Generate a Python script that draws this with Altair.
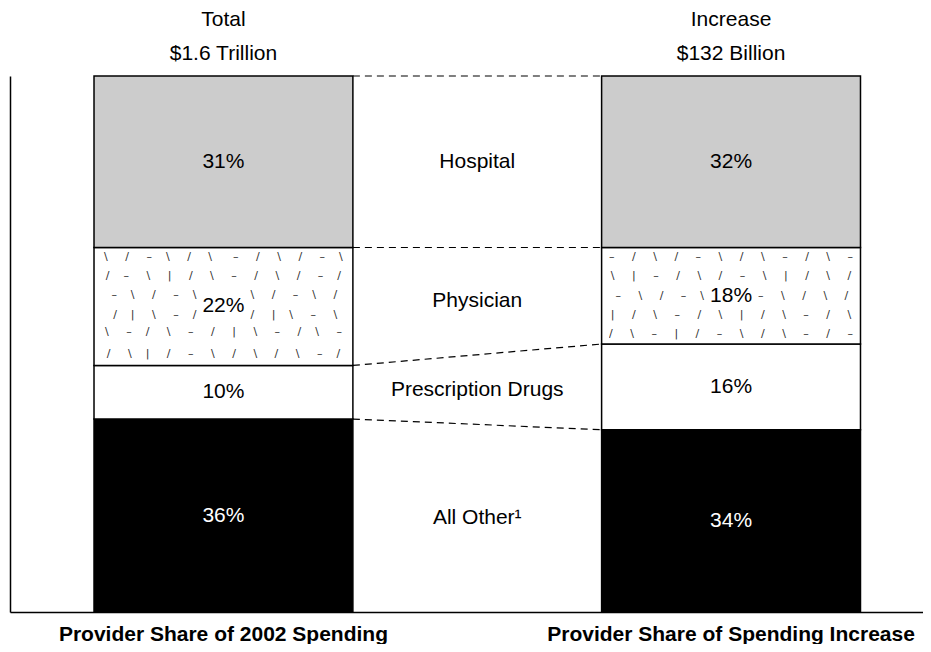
import altair as alt
import pandas as pd

categories = ["Hospital", "Physician", "Prescription Drugs", "All Other"]
mid_labels = ["Hospital", "Physician", "Prescription Drugs", "All Other¹"]
bars = ["Provider Share of 2002 Spending", "Provider Share of Spending Increase"]
header_top = ["Total", "Increase"]
header_amount = ["$1.6 Trillion", "$132 Billion"]
share_2002 = [31, 22, 10, 36]
share_increase = [32, 18, 16, 34]
fill_colors = ["#cccccc", "#ffffff", "#ffffff", "#000000"]
text_colors = ["#000000", "#000000", "#000000", "#ffffff"]

# decorative texture for the Physician segment: full rows (relative position, text)
tex_full_left = [
    (0.08, r" \     /     –    \     /     \      –     /     \     /     –    \  "),
    (0.24, r"  /    –     \     |     /     \     –     /     \     /     –    / "),
    (0.72, r" \     –    /     \     –     /     |     \     –     /    \     – "),
    (0.90, r"  /     \    |     /     –     \     /     \     /     \     –    / "),
]
tex_full_right = [
    (0.10, r"  –     /     \     /     –     \     /     \     –     /     \     – "),
    (0.30, r" \     |     –     /     \     /     –     \     |     /     \     / "),
    (0.70, r"  |     /     \     –     /     \     |     /     \     –     /     \ "),
    (0.90, r" /     \     –     |     /     –     \     /     \     –     /     –  "),
]
# rows that pass the percentage label: (relative position, left part, right part)
tex_split_left = [
    (0.40, r"–    \     /     –    \  ", r"  \     /     –    \     / "),
    (0.57, r"/    |     \     –    /  ", r"  /     |    \     –     \ "),
]
tex_split_right = [
    (0.50, r"–     \     /     –    \  ", r"  –     \     /     \     / "),
]

NB = "\u00a0"

# each bar is a whole (100%); shares are rounded, so the top segment takes the remainder
rows = []
bounds = {}
for bar, shares in zip(bars, [share_2002, share_increase]):
    bottom = 0.0
    order = list(zip(categories, shares, fill_colors, text_colors))[::-1]
    for i, (cat, v, fc, tc) in enumerate(order):
        top = 1.0 if i == len(order) - 1 else bottom + v / 100
        rows.append(dict(bar=bar, cat=cat, share=v, y0=bottom, y1=top,
                         mid=(top + bottom) / 2, label=f"{v}%", fill=fc, tcolor=tc))
        bounds[(bar, cat)] = (bottom, top)
        bottom = top
df = pd.DataFrame(rows)

conn = pd.DataFrame([
    dict(left=bars[0], right=bars[1], y=bounds[(bars[0], c)][1], y2=bounds[(bars[1], c)][1])
    for c in categories
])

mid_df = pd.DataFrame([
    dict(bar=bars[0], text=lab,
         y=(sum(bounds[(bars[0], c)]) / 2 + sum(bounds[(bars[1], c)]) / 2) / 2)
    for c, lab in zip(categories, mid_labels)
])

full_rows, split_rows = [], []
for bar, full, split in [(bars[0], tex_full_left, tex_split_left),
                         (bars[1], tex_full_right, tex_split_right)]:
    b0, b1 = bounds[(bar, "Physician")]
    for p, s in full:
        full_rows.append(dict(bar=bar, y=b1 - p * (b1 - b0), text=s.replace(" ", NB)))
    for p, sl, sr in split:
        split_rows.append(dict(bar=bar, y=b1 - p * (b1 - b0),
                               ltext=sl.replace(" ", NB), rtext=sr.replace(" ", NB)))
tex_full_df = pd.DataFrame(full_rows)
tex_split_df = pd.DataFrame(split_rows)

RANGE = 934.5
P_INNER = 0.49
P_OUTER = 0.1655
STEP = RANGE / (2 - P_INNER + 2 * P_OUTER)
GAP_HALF = STEP * P_INNER / 2
xscale = alt.Scale(domain=bars, range=[0, RANGE], paddingInner=P_INNER, paddingOuter=P_OUTER)
yscale = alt.Scale(domain=[0, 1], nice=False)
FONT = "Liberation Sans"
FS = 21

expr_top = (f"datum.value == '{bars[0]}' ? ['{header_top[0]}', '{header_amount[0]}'] : "
            f"['{header_top[1]}', '{header_amount[1]}']")

bars_layer = alt.Chart(df).mark_bar(stroke="black", strokeWidth=1.5).encode(
    x=alt.X("bar:N", scale=xscale, sort=bars,
            axis=alt.Axis(orient="bottom", title=None, labelFont=FONT, labelFontWeight="bold",
                          labelFontSize=FS, labelPadding=28, ticks=False, domainColor="black",
                          domainWidth=1.5, labelColor="black", labelLimit=0, labelAngle=0,
                          labelBaseline="alphabetic", labelOverlap=False)),
    y=alt.Y("y0:Q", scale=yscale,
            axis=alt.Axis(title=None, labels=False, ticks=False, grid=False,
                          domainColor="black", domainWidth=1.5)),
    y2="y1:Q",
    fill=alt.Fill("fill:N", scale=None),
)

tex_style = dict(font="DejaVu Sans", fontSize=11, color="#111111", opacity=0.9)
tex_layer = alt.Chart(tex_full_df).mark_text(**tex_style).encode(
    x=alt.X("bar:N", scale=xscale, axis=None),
    y=alt.Y("y:Q", scale=yscale, axis=None),
    text="text:N",
)
tex_left_layer = alt.Chart(tex_split_df).mark_text(align="right", dx=-27, **tex_style).encode(
    x=alt.X("bar:N", scale=xscale, axis=None),
    y=alt.Y("y:Q", scale=yscale, axis=None),
    text="ltext:N",
)
tex_right_layer = alt.Chart(tex_split_df).mark_text(align="left", dx=27, **tex_style).encode(
    x=alt.X("bar:N", scale=xscale, axis=None),
    y=alt.Y("y:Q", scale=yscale, axis=None),
    text="rtext:N",
)

rule_layer = alt.Chart(conn).mark_rule(color="black", strokeWidth=1.2, strokeDash=[7, 5]).encode(
    x=alt.X("left:N", scale=xscale, bandPosition=1, axis=None),
    x2=alt.X2("right:N", bandPosition=0),
    y=alt.Y("y:Q", scale=yscale, axis=None),
    y2="y2:Q",
)

pct_layer = alt.Chart(df).mark_text(font=FONT, fontSize=FS).encode(
    x=alt.X("bar:N", scale=xscale, axis=None),
    y=alt.Y("mid:Q", scale=yscale, axis=None),
    text="label:N",
    color=alt.Color("tcolor:N", scale=None),
)

mid_layer = alt.Chart(mid_df).mark_text(font=FONT, fontSize=FS, color="black", dx=GAP_HALF).encode(
    x=alt.X("bar:N", scale=xscale, bandPosition=1,
            axis=alt.Axis(orient="top", title=None, labelFont=FONT, labelFontSize=FS,
                          labelLineHeight=34, labelPadding=51, ticks=False, domain=False,
                          labelColor="black", labelLimit=0, labelAngle=0,
                          labelBaseline="alphabetic",
                          labelExpr=expr_top, labelOverlap=False, bandPosition=0.5)),
    y=alt.Y("y:Q", scale=yscale, axis=None),
    text="text:N",
)

chart = alt.layer(bars_layer, tex_layer, tex_left_layer, tex_right_layer, rule_layer,
                  pct_layer, mid_layer).resolve_axis(
    x="independent", y="independent"
).properties(
    width=913, height=536,
    autosize=alt.AutoSizeParams(type="none"),
    padding={"left": 2, "top": 68, "right": 0, "bottom": 32},
).configure_view(stroke=None)

chart.save("out.html", embed_options={"renderer": "svg", "actions": False})
